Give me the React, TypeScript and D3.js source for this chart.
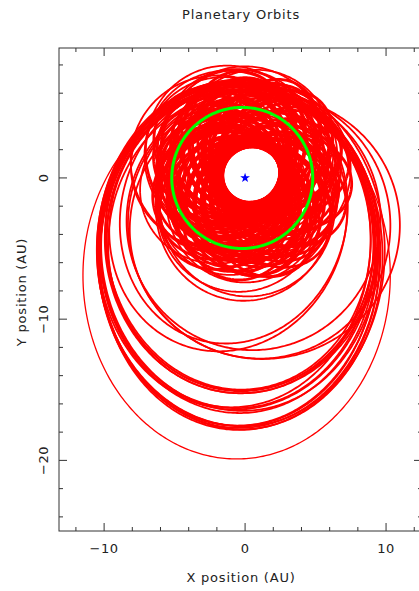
import React from "react";
import * as d3 from "d3";

// Large outer loops: centre (AU), half-widths (AU), tilt (deg)
const outerCx = [-0.6, -0.4, -0.6, -0.2, -0.5, -0.3, -0.5, -0.6, -0.4, -0.7, -0.5, -0.6, -0.3, -0.5, -0.1, -0.4, -0.2, 1.4, 1.0, 0.6, -1.2, -0.8];
const outerCy = [-6.9, -5.4, -5.35, -5.45, -5.5, -5.45, -5.3, -4.8, -5.05, -4.65, -5.1, -4.9, -4.3, -4.1, -4.55, -4.4, -4.3, -3.5, -3.3, -3.0, -3.0, -2.6];
const outerRx = [10.9, 10.0, 9.9, 10.1, 10.0, 10.05, 9.95, 9.7, 9.8, 9.6, 9.75, 9.85, 9.5, 9.4, 9.6, 9.55, 9.65, 9.6, 9.3, 9.0, 8.3, 8.0];
const outerRy = [13.0, 12.3, 12.2, 12.4, 12.1, 12.35, 12.25, 11.5, 11.45, 11.6, 11.55, 11.5, 10.8, 10.9, 10.7, 10.85, 10.75, 9.3, 9.5, 9.2, 9.4, 9.2];
const outerTilt = [0, 0, 3, -3, 5, 1, -1, 0, 4, -4, 2, -2, 0, 5, -5, 2, -2, 15, 10, -10, -20, -15];

// Middle ring orbits: periapsis distance (AU), apoapsis distance (AU), periapsis direction (deg); star at focus
const middlePeri = [4.3, 4.2, 4.55, 3.8, 4.5, 4.0, 3.9, 3.8, 3.8, 3.85, 4.2, 3.9, 4.6, 4.0, 4.4, 4.1, 4.6, 4.3, 4.5];
const middleApo = [8.3, 7.8, 8.45, 7.8, 7.9, 7.8, 7.3, 8.2, 7.6, 7.15, 7.4, 7.3, 7.6, 6.8, 8.0, 7.7, 8.4, 8.1, 8.7];
const middleOmega = [300, 315, 330, 285, 270, 250, 230, 345, 20, 60, 90, 120, 200, 160, 305, 280, 95, 80, 88];

// Dense inner orbits
const innerOmega = [0, 8, 17, 25, 33, 41, 50, 58, 66, 75, 83, 91, 100, 108, 116, 125, 133, 141, 150, 158, 166, 175, 183, 191, 200, 208, 216, 225, 233, 241, 250, 258, 266, 275, 283, 291, 300, 308, 316, 325, 333, 341, 350,
  4, 12, 21, 29, 37, 45, 54, 62, 70, 79, 87, 95, 104, 112, 120, 129, 137, 145, 154, 162, 170, 179, 187, 195, 204, 212, 220, 229, 237, 245, 254, 262, 270, 279, 287, 295, 304, 312, 320, 329, 337, 345, 354];
const innerPeri = [2.50, 2.53, 2.55, 2.56, 2.56, 2.55, 2.53, 2.50, 2.46, 2.41, 2.35, 2.29, 2.22, 2.15, 2.08, 2.00, 1.93, 1.86, 1.79, 1.73, 1.67, 1.62, 1.59, 1.56, 1.54, 1.54, 1.54, 1.56, 1.58, 1.61, 1.66, 1.71, 1.77, 1.84, 1.91, 1.98, 2.06, 2.13, 2.20, 2.28, 2.34, 2.39, 2.45,
  2.66, 2.69, 2.71, 2.71, 2.71, 2.69, 2.67, 2.63, 2.58, 2.53, 2.47, 2.40, 2.33, 2.26, 2.19, 2.11, 2.04, 1.98, 1.91, 1.85, 1.79, 1.75, 1.72, 1.70, 1.69, 1.69, 1.70, 1.72, 1.75, 1.79, 1.84, 1.89, 1.96, 2.03, 2.10, 2.17, 2.25, 2.32, 2.40, 2.47, 2.53, 2.58, 2.64];
const innerApo = [5.30, 6.27, 5.65, 6.84, 5.04, 6.05, 7.27, 5.50, 6.54, 5.99, 7.25, 5.51, 6.98, 6.45, 7.40, 6.20, 7.47, 6.94, 5.81, 7.50, 6.73, 7.58, 6.21, 7.44, 6.66, 7.40, 7.06, 7.60, 6.42, 7.59, 6.74, 6.09, 7.03, 7.56, 6.29, 7.02, 5.54, 6.47, 7.60, 5.72, 6.86, 6.01, 6.35,
  6.0, 5.5, 6.5, 5.8, 6.9, 5.6, 6.3, 5.7, 6.8, 5.9, 6.6, 6.0, 7.0, 5.9, 6.6, 5.8, 7.1, 6.2, 6.9, 5.9, 6.5, 5.7, 6.8, 6.0, 7.2, 6.1, 6.9, 6.3, 7.3, 6.0, 6.8, 5.9, 7.1, 6.2, 6.8, 5.8, 6.6, 6.0, 7.0, 5.7, 6.4, 5.6, 6.2];

// Planet orbit (green)
const planetPeri = [4.8];
const planetApo = [5.2];
const planetOmega = [0];

const xMajorTicks = [-10, 0, 10];
const xMinorTicks = [-12, -8, -6, -4, -2, 2, 4, 6, 8, 12];
const yMajorTicks = [-20, -10, 0];
const yMinorTicks = [-24, -22, -18, -16, -14, -12, -8, -6, -4, -2, 2, 4, 6, 8];

const W = 419;
const H = 591;
const L = 59, R = 422, T = 48, B = 531;
const x = d3.scaleLinear().domain([-13.2, 12.55]).range([L, R]);
const y = d3.scaleLinear().domain([-25, 9.2]).range([B, T]);
const line = d3.line<[number, number]>().x((d) => x(d[0])).y((d) => y(d[1]));

function keplerPath(q: number, Q: number, wDeg: number): string {
  const a = (q + Q) / 2;
  const e = (Q - q) / (Q + q);
  const p = a * (1 - e * e);
  const w = (wDeg * Math.PI) / 180;
  const pts: [number, number][] = d3.range(0, 401).map((i) => {
    const t = (i / 400) * 2 * Math.PI;
    const r = p / (1 + e * Math.cos(t - w));
    return [r * Math.cos(t), r * Math.sin(t)] as [number, number];
  });
  return line(pts) || "";
}

function ellipsePath(cx: number, cy: number, rx: number, ry: number, tiltDeg: number): string {
  const f = (tiltDeg * Math.PI) / 180;
  const pts: [number, number][] = d3.range(0, 401).map((i) => {
    const t = (i / 400) * 2 * Math.PI;
    const u = rx * Math.cos(t);
    const v = ry * Math.sin(t);
    return [cx + u * Math.cos(f) - v * Math.sin(f), cy + u * Math.sin(f) + v * Math.cos(f)] as [number, number];
  });
  return line(pts) || "";
}

const font = "'DejaVu Sans', sans-serif";
const textColor = "#222";
const axisColor = "#333";
const fmt = (t: number) => (t < 0 ? "\u2212" + Math.abs(t) : String(t));

export default function App() {
  const star = d3.symbol().type(d3.symbolStar).size(30)() || "";
  return (
    <svg width={W} height={H} style={{ position: "absolute", left: 0, top: 0, background: "#fff" }}>
      <defs>
        <clipPath id="plotClip">
          <rect x={L} y={T} width={R - L} height={B - T} />
        </clipPath>
      </defs>
      <g clipPath="url(#plotClip)" fill="none" stroke="#ff0000" strokeWidth={1.8}>
        {outerCx.map((cx, i) => (
          <path key={"o" + i} d={ellipsePath(cx, outerCy[i], outerRx[i], outerRy[i], outerTilt[i])} strokeWidth={i === 0 ? 1.3 : 1.8} />
        ))}
        {middlePeri.map((q, i) => (
          <path key={"m" + i} d={keplerPath(q, middleApo[i], middleOmega[i])} />
        ))}
        {innerPeri.map((q, i) => (
          <path key={"i" + i} d={keplerPath(q, innerApo[i], innerOmega[i])} strokeWidth={2.8} />
        ))}
      </g>
      {planetPeri.map((q, i) => (
        <path key={"p" + i} d={keplerPath(q, planetApo[i], planetOmega[i])} fill="none" stroke="#00ff00" strokeWidth={3} />
      ))}
      <path d={star} transform={`translate(${x(0)},${y(0)})`} fill="#0000ff" />

      <g stroke={axisColor} strokeWidth={1} fill="none">
        <rect x={L} y={T} width={R - L} height={B - T} />
        {xMajorTicks.map((t) => (
          <g key={"xM" + t}>
            <line x1={x(t)} x2={x(t)} y1={B} y2={B - 8} />
            <line x1={x(t)} x2={x(t)} y1={T} y2={T + 8} />
          </g>
        ))}
        {xMinorTicks.map((t) => (
          <g key={"xm" + t}>
            <line x1={x(t)} x2={x(t)} y1={B} y2={B - 4} />
            <line x1={x(t)} x2={x(t)} y1={T} y2={T + 4} />
          </g>
        ))}
        {yMajorTicks.map((t) => (
          <g key={"yM" + t}>
            <line x1={L} x2={L + 8} y1={y(t)} y2={y(t)} />
            <line x1={R} x2={R - 8} y1={y(t)} y2={y(t)} />
          </g>
        ))}
        {yMinorTicks.map((t) => (
          <g key={"ym" + t}>
            <line x1={L} x2={L + 4} y1={y(t)} y2={y(t)} />
            <line x1={R} x2={R - 4} y1={y(t)} y2={y(t)} />
          </g>
        ))}
      </g>

      <g fontFamily={font} fontSize={13} fill={textColor}>
        {xMajorTicks.map((t) => (
          <text key={"xl" + t} x={x(t)} y={553} textAnchor="middle" letterSpacing={0.6}>
            {fmt(t)}
          </text>
        ))}
        {yMajorTicks.map((t) => (
          <text key={"yl" + t} transform={`translate(48,${y(t)}) rotate(-90)`} textAnchor="middle" letterSpacing={0.6}>
            {fmt(t)}
          </text>
        ))}
        <text x={241} y={19} textAnchor="middle" letterSpacing={0.8}>Planetary Orbits</text>
        <text x={241} y={582} textAnchor="middle" letterSpacing={0.8}>X position (AU)</text>
        <text transform={`translate(26,292) rotate(-90)`} textAnchor="middle" letterSpacing={0.8}>Y position (AU)</text>
      </g>
    </svg>
  );
}
